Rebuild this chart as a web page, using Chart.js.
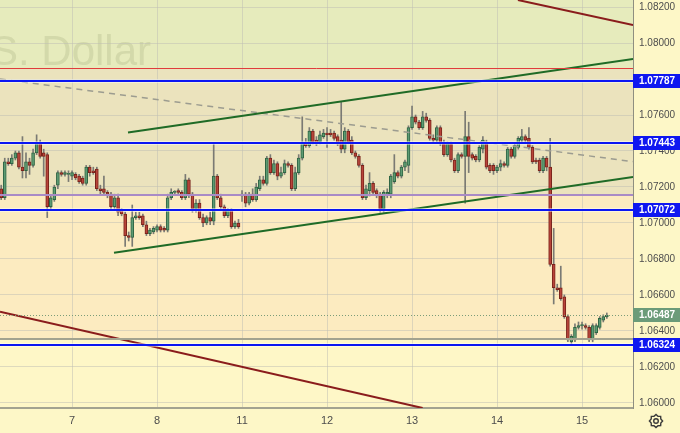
<!DOCTYPE html>
<html>
<head>
<meta charset="utf-8">
<script src="https://cdn.jsdelivr.net/npm/chart.js@4.4.0/dist/chart.umd.min.js"></script>
<style>
  html, body { margin: 0; padding: 0; background: #fdf7c7; }
  #wrap { width: 680px; height: 433px; }
</style>
</head>
<body>
<div id="wrap"><canvas id="chart" width="680" height="433"></canvas></div>
<script>
// EUR/USD hourly candles, bar index 0..171
const opens = [
  1.0719, 1.0714, 1.0734, 1.0733, 1.0736, 1.0739, 1.0731, 1.0729, 1.0734, 1.0732,
  1.0739, 1.0744, 1.0739, 1.0738, 1.0709, 1.0713, 1.0721, 1.0728, 1.0727, 1.0727,
  1.0726, 1.0727, 1.0726, 1.0725, 1.0722, 1.0731, 1.0729, 1.0730, 1.0719, 1.0719,
  1.0717, 1.0716, 1.0709, 1.0714, 1.0707, 1.0705, 1.0693, 1.0692, 1.0703, 1.0704,
  1.0704, 1.0699, 1.0694, 1.0695, 1.0696, 1.0698, 1.0697, 1.0696, 1.0714, 1.0717,
  1.0718, 1.0717, 1.0714, 1.0724, 1.0716, 1.0708, 1.0711, 1.0703, 1.0700, 1.0703,
  1.0701, 1.0726, 1.0714, 1.0709, 1.0704, 1.0707, 1.0698, 1.0700, 1.0715, 1.0716,
  1.0711, 1.0716, 1.0713, 1.0719, 1.0724, 1.0722, 1.0736, 1.0728, 1.0733, 1.0726,
  1.0728, 1.0733, 1.0732, 1.0719, 1.0728, 1.0736, 1.0745, 1.0743, 1.0751, 1.0746,
  1.0745, 1.0748, 1.0750, 1.0750, 1.0750, 1.0748, 1.0746, 1.0741, 1.0751, 1.0746,
  1.0739, 1.0737, 1.0732, 1.0714, 1.0718, 1.0722, 1.0718, 1.0716, 1.0708, 1.0716,
  1.0716, 1.0723, 1.0728, 1.0726, 1.0731, 1.0732, 1.0753, 1.0759, 1.0756, 1.0753,
  1.0759, 1.0757, 1.0747, 1.0746, 1.0753, 1.0744, 1.0738, 1.0744, 1.0735, 1.0729,
  1.0738, 1.0737, 1.0748, 1.0738, 1.0737, 1.0735, 1.0741, 1.0744, 1.0732, 1.0732,
  1.0729, 1.0731, 1.0733, 1.0732, 1.0741, 1.0737, 1.0742, 1.0746, 1.0748, 1.0747,
  1.0742, 1.0735, 1.0735, 1.0729, 1.0736, 1.0731, 1.0677, 1.0664, 1.0664, 1.0659,
  1.0648, 1.0634, 1.0635, 1.0642, 1.0643, 1.0643, 1.0642, 1.0635, 1.0639, 1.0642,
  1.0646, 1.0648,
];
const closes = [
  1.0714, 1.0734, 1.0733, 1.0736, 1.0739, 1.0731, 1.0729, 1.0734, 1.0732, 1.0739,
  1.0744, 1.0737, 1.0737, 1.0709, 1.0714, 1.0720, 1.0728, 1.0727, 1.0728, 1.0727,
  1.0728, 1.0725, 1.0723, 1.0722, 1.0731, 1.0728, 1.0728, 1.0719, 1.0718, 1.0717,
  1.0716, 1.0709, 1.0714, 1.0706, 1.0705, 1.0693, 1.0692, 1.0703, 1.0704, 1.0703,
  1.0699, 1.0694, 1.0696, 1.0697, 1.0698, 1.0696, 1.0696, 1.0714, 1.0717, 1.0717,
  1.0717, 1.0714, 1.0724, 1.0716, 1.0708, 1.0711, 1.0703, 1.0700, 1.0703, 1.0701,
  1.0726, 1.0714, 1.0709, 1.0704, 1.0707, 1.0698, 1.0700, 1.0698, 1.0716, 1.0711,
  1.0716, 1.0713, 1.0720, 1.0724, 1.0722, 1.0736, 1.0728, 1.0733, 1.0726, 1.0728,
  1.0733, 1.0732, 1.0719, 1.0728, 1.0736, 1.0745, 1.0743, 1.0751, 1.0745, 1.0744,
  1.0749, 1.0750, 1.0749, 1.0749, 1.0747, 1.0744, 1.0741, 1.0751, 1.0745, 1.0739,
  1.0737, 1.0732, 1.0714, 1.0719, 1.0722, 1.0717, 1.0716, 1.0708, 1.0717, 1.0717,
  1.0726, 1.0728, 1.0726, 1.0731, 1.0734, 1.0753, 1.0759, 1.0756, 1.0753, 1.0759,
  1.0757, 1.0747, 1.0746, 1.0753, 1.0744, 1.0738, 1.0744, 1.0735, 1.0729, 1.0738,
  1.0737, 1.0748, 1.0737, 1.0736, 1.0735, 1.0742, 1.0746, 1.0731, 1.0729, 1.0729,
  1.0731, 1.0733, 1.0732, 1.0741, 1.0737, 1.0743, 1.0747, 1.0748, 1.0746, 1.0742,
  1.0734, 1.0734, 1.0729, 1.0736, 1.0731, 1.0677, 1.0664, 1.0663, 1.0658, 1.0648,
  1.0635, 1.0637, 1.0642, 1.0643, 1.0643, 1.0642, 1.0635, 1.0643, 1.0643, 1.0647,
  1.0648, 1.06487,
];
const highs = [
  1.0721, 1.0736, 1.0736, 1.0738, 1.0740, 1.0740, 1.0748, 1.0739, 1.0736, 1.0741,
  1.0749, 1.0746, 1.0741, 1.0739, 1.0715, 1.0721, 1.0729, 1.0729, 1.0729, 1.0729,
  1.0729, 1.0728, 1.0727, 1.0726, 1.0732, 1.0732, 1.0731, 1.0731, 1.0721, 1.0726,
  1.0718, 1.0717, 1.0716, 1.0716, 1.0708, 1.0706, 1.0695, 1.0710, 1.0706, 1.0706,
  1.0705, 1.0701, 1.0697, 1.0698, 1.0699, 1.0699, 1.0698, 1.0716, 1.0719, 1.0718,
  1.0719, 1.0718, 1.0727, 1.0725, 1.0717, 1.0713, 1.0713, 1.0705, 1.0704, 1.0706,
  1.0744, 1.0727, 1.0716, 1.0710, 1.0708, 1.0708, 1.0701, 1.0702, 1.0718, 1.0717,
  1.0717, 1.0719, 1.0722, 1.0726, 1.0726, 1.0737, 1.0738, 1.0735, 1.0734, 1.0731,
  1.0735, 1.0734, 1.0733, 1.0731, 1.0738, 1.0759, 1.0747, 1.0753, 1.0752, 1.0748,
  1.0751, 1.0752, 1.0753, 1.0752, 1.0751, 1.0749, 1.0767, 1.0753, 1.0752, 1.0748,
  1.0740, 1.0738, 1.0733, 1.0721, 1.0728, 1.0723, 1.0719, 1.0717, 1.0718, 1.0719,
  1.0727, 1.0738, 1.0729, 1.0732, 1.0735, 1.0754, 1.0765, 1.0760, 1.0757, 1.0762,
  1.0761, 1.0758, 1.0749, 1.0754, 1.0754, 1.0746, 1.0745, 1.0745, 1.0736, 1.0739,
  1.0739, 1.0762, 1.0756, 1.0739, 1.0738, 1.0743, 1.0748, 1.0746, 1.0733, 1.0733,
  1.0732, 1.0735, 1.0734, 1.0742, 1.0742, 1.0744, 1.0748, 1.0752, 1.0749, 1.0753,
  1.0743, 1.0736, 1.0736, 1.0737, 1.0737, 1.0747, 1.0697, 1.0666, 1.0676, 1.0660,
  1.0649, 1.0638, 1.0644, 1.0645, 1.0645, 1.0644, 1.0643, 1.0644, 1.0644, 1.0648,
  1.0649, 1.0650,
];
const lows = [
  1.0713, 1.0713, 1.0732, 1.0732, 1.0735, 1.0730, 1.0725, 1.0725, 1.0727, 1.0731,
  1.0738, 1.0736, 1.0726, 1.0703, 1.0707, 1.0712, 1.0719, 1.0726, 1.0726, 1.0723,
  1.0724, 1.0724, 1.0722, 1.0721, 1.0721, 1.0726, 1.0727, 1.0718, 1.0716, 1.0716,
  1.0714, 1.0708, 1.0708, 1.0704, 1.0704, 1.0687, 1.0690, 1.0687, 1.0702, 1.0702,
  1.0698, 1.0693, 1.0693, 1.0694, 1.0695, 1.0695, 1.0695, 1.0695, 1.0713, 1.0716,
  1.0716, 1.0713, 1.0713, 1.0714, 1.0706, 1.0706, 1.0702, 1.0698, 1.0699, 1.0699,
  1.0699, 1.0713, 1.0708, 1.0703, 1.0703, 1.0697, 1.0697, 1.0697, 1.0712, 1.0709,
  1.0710, 1.0712, 1.0712, 1.0718, 1.0721, 1.0721, 1.0727, 1.0727, 1.0724, 1.0725,
  1.0727, 1.0731, 1.0718, 1.0718, 1.0727, 1.0735, 1.0742, 1.0742, 1.0744, 1.0743,
  1.0744, 1.0747, 1.0742, 1.0748, 1.0746, 1.0743, 1.0739, 1.0739, 1.0744, 1.0738,
  1.0736, 1.0731, 1.0713, 1.0713, 1.0715, 1.0716, 1.0714, 1.0706, 1.0706, 1.0714,
  1.0714, 1.0722, 1.0725, 1.0725, 1.0729, 1.0728, 1.0752, 1.0755, 1.0752, 1.0752,
  1.0756, 1.0746, 1.0745, 1.0745, 1.0743, 1.0737, 1.0737, 1.0734, 1.0728, 1.0728,
  1.0736, 1.0711, 1.0728, 1.0735, 1.0734, 1.0734, 1.0739, 1.0730, 1.0728, 1.0727,
  1.0728, 1.0729, 1.0731, 1.0731, 1.0736, 1.0736, 1.0741, 1.0745, 1.0745, 1.0741,
  1.0733, 1.0733, 1.0728, 1.0728, 1.0729, 1.0676, 1.0655, 1.0662, 1.0657, 1.0647,
  1.0634, 1.0633, 1.0634, 1.0641, 1.0641, 1.0641, 1.0634, 1.0634, 1.0638, 1.0641,
  1.0645, 1.0647,
];

const dayLabels = ["7", "8", "11", "12", "13", "14", "15"];
const dayBars = [20, 44, 68, 92, 116, 140, 164];
const yTicks = [1.082, 1.08, 1.078, 1.076, 1.074, 1.072, 1.07, 1.068, 1.066, 1.064, 1.062, 1.06];
const xMin = -0.34, xMax = 178.39;
const yMin = 1.05972, yMax = 1.08239;

const levels = [1.07787, 1.07443, 1.07072, 1.06324];
const lastPrice = 1.06487;
const zoneEdges = [1.07861, 1.07156, 1.06353];

const channelTop = [{ x: 35.8, y: 1.07503 }, { x: 178.39, y: 1.07911 }];
const channelBottom = [{ x: 31.85, y: 1.06835 }, { x: 178.39, y: 1.07256 }];
const dashedTrend = [{ x: -0.34, y: 1.078 }, { x: 178.39, y: 1.07341 }];
const redTop = [{ x: 145.9, y: 1.08239 }, { x: 178.39, y: 1.081 }];
const redBottom = [{ x: -0.34, y: 1.06507 }, { x: 119.0, y: 1.05972 }];

const FONT = "'Liberation Sans', Arial, sans-serif";
Chart.defaults.font.family = FONT;

const up = closes.map((c, i) => c >= opens[i]);
const bodies = opens.map((o, i) => ({ x: i, y: [o, closes[i]] }));
const wicks = lows.map((l, i) => ({ x: i, y: [l, highs[i]] }));

const backdrop = {
  id: "backdrop",
  beforeDraw(chart) {
    const { ctx, chartArea: a, scales: { y } } = chart;
    const zoneColors = ["#e6ebbc", "#ebe3bd", "#fcebc0", "#fef7c7"];
    ctx.save();
    ctx.fillStyle = "#fdf7c7";
    ctx.fillRect(0, 0, chart.width, chart.height);
    const edges = [a.top, ...zoneEdges.map((v) => y.getPixelForValue(v)), a.bottom];
    zoneColors.forEach((c, i) => {
      ctx.fillStyle = c;
      ctx.fillRect(a.left, edges[i], a.right - a.left, edges[i + 1] - edges[i]);
    });
    ctx.beginPath();
    ctx.rect(a.left, a.top, a.right - a.left, a.bottom - a.top);
    ctx.clip();
    ctx.font = "42px " + FONT;
    ctx.fillStyle = "rgba(110,115,70,0.15)";
    ctx.textAlign = "right";
    ctx.textBaseline = "alphabetic";
    ctx.fillText("U.S. Dollar", 151, 65);
    ctx.restore();
  },
  afterDatasetsDraw(chart) {
    const { ctx, chartArea: a, scales: { y } } = chart;
    ctx.save();
    ctx.beginPath();
    ctx.rect(a.left, a.top, a.right - a.left, a.bottom - a.top);
    ctx.clip();
    const hline = (v, color, w, dash) => {
      const py = Math.round(y.getPixelForValue(v)) + (w % 2 ? 0.5 : 0);
      ctx.strokeStyle = color;
      ctx.lineWidth = w;
      ctx.setLineDash(dash || []);
      ctx.beginPath();
      ctx.moveTo(a.left, py);
      ctx.lineTo(a.right, py);
      ctx.stroke();
    };
    hline(zoneEdges[0], "#e03c3c", 1);
    hline(zoneEdges[1], "#a98bc6", 2);
    hline(zoneEdges[2], "#a3a38f", 2);
    hline(lastPrice, "#7b9c78", 1, [1, 2]);
    levels.forEach((v) => {
      hline(v, "rgba(255,255,255,0.45)", 4);
      hline(v, "#0b16f2", 2);
    });
    ctx.restore();
  },
  afterDraw(chart) {
    const { ctx, chartArea: a, scales: { y } } = chart;
    ctx.save();
    const tag = (v, bg) => {
      const py = Math.round(y.getPixelForValue(v));
      ctx.fillStyle = bg;
      ctx.fillRect(a.right, py - 7, chart.width - a.right, 14);
      ctx.fillStyle = "#ffffff";
      ctx.font = "bold 10px " + FONT;
      ctx.textAlign = "left";
      ctx.textBaseline = "middle";
      ctx.fillText(v.toFixed(5), a.right + 6, py + 0.5);
    };
    levels.forEach((v) => tag(v, "#0f17f0"));
    tag(lastPrice, "#6b9b79");

    // settings gear
    const cx = 656, cy = 421;
    ctx.strokeStyle = "#3a3a3a";
    ctx.lineWidth = 1.4;
    ctx.beginPath();
    for (let k = 0; k <= 16; k++) {
      const ang = (k / 16) * Math.PI * 2;
      const r = k % 2 ? 5.2 : 6.6;
      const px = cx + r * Math.cos(ang), py = cy + r * Math.sin(ang);
      k ? ctx.lineTo(px, py) : ctx.moveTo(px, py);
    }
    ctx.closePath();
    ctx.stroke();
    ctx.beginPath();
    ctx.arc(cx, cy, 2.3, 0, Math.PI * 2);
    ctx.stroke();
    ctx.restore();
  },
};

const trend = (data, color, width, dash) => ({
  type: "line",
  data,
  borderColor: color,
  borderWidth: width,
  borderDash: dash || [],
  pointRadius: 0,
  fill: false,
  order: 0,
});

new Chart(document.getElementById("chart"), {
  type: "bar",
  data: {
    datasets: [
      trend(channelTop, "#1f6b26", 2),
      trend(channelBottom, "#1f6b26", 2),
      trend(dashedTrend, "#9c9c90", 1.5, [6, 5]),
      trend(redTop, "#8a1c1c", 2),
      trend(redBottom, "#8a1c1c", 2),
      {
        data: bodies,
        backgroundColor: up.map((u) => (u ? "#5d9b72" : "#b8443a")),
        borderColor: up.map((u) => (u ? "#2f6444" : "#7a231b")),
        borderWidth: 1,
        borderSkipped: false,
        barThickness: 3,
        minBarLength: 1,
        grouped: false,
        order: 1,
      },
      {
        data: wicks,
        backgroundColor: "#7a7a74",
        barThickness: 1,
        grouped: false,
        order: 2,
      },
    ],
  },
  options: {
    responsive: false,
    animation: false,
    events: [],
    layout: { padding: 0 },
    plugins: { legend: { display: false }, tooltip: { enabled: false } },
    scales: {
      x: {
        type: "linear",
        min: xMin,
        max: xMax,
        offset: false,
        afterBuildTicks: (s) => { s.ticks = dayBars.map((v) => ({ value: v })); },
        afterFit: (s) => { s.height = 25; s.paddingLeft = 0; s.paddingRight = 0; },
        grid: { color: "rgba(190,190,180,0.5)", drawTicks: false, offset: false },
        border: { color: "#a3a390", width: 2 },
        ticks: {
          color: "#4d4d4d",
          font: { size: 11 },
          padding: 6,
          maxRotation: 0,
          autoSkip: false,
          callback: (v) => dayLabels[dayBars.indexOf(v)],
        },
      },
      y: {
        position: "right",
        min: yMin,
        max: yMax,
        afterBuildTicks: (s) => { s.ticks = yTicks.map((v) => ({ value: v })); },
        afterFit: (s) => { s.width = 47; s.paddingTop = 0; s.paddingBottom = 0; },
        grid: { color: "rgba(190,190,180,0.5)", drawTicks: false },
        border: { color: "#8f8f80", width: 1 },
        ticks: {
          color: "#4d4d4d",
          font: { size: 10 },
          padding: 6,
          autoSkip: false,
          callback: (v) => v.toFixed(5),
        },
      },
    },
  },
  plugins: [backdrop],
});
</script>
</body>
</html>
